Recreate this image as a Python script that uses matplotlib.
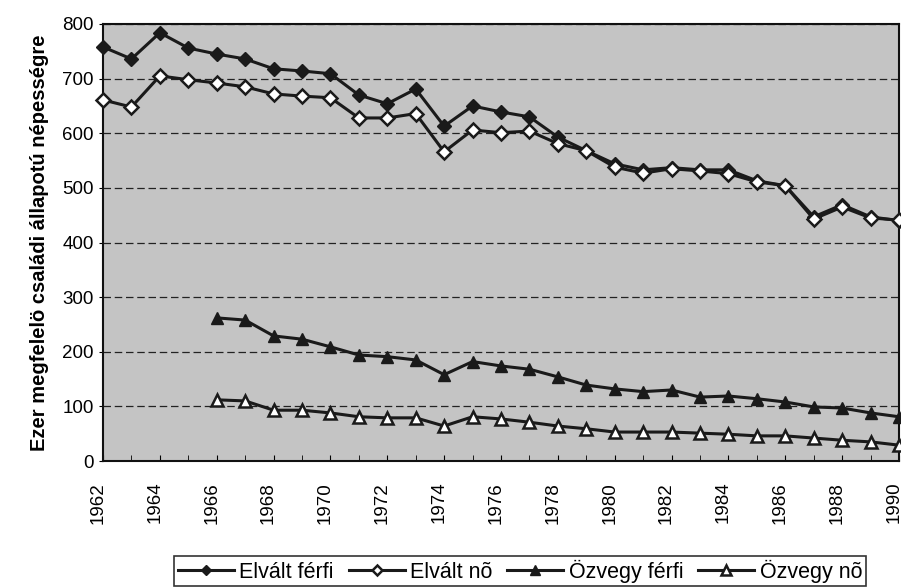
import numpy as np
import matplotlib.pyplot as plt
import matplotlib.transforms as mtransforms
from matplotlib.ticker import MultipleLocator

# ── data ─────────────────────────────────────────────────────────
years = list(range(1962, 1991))
years_w = list(range(1966, 1991))

elvalt_ferfi = [758, 736, 784, 756, 745, 736, 718, 714, 709, 670, 654, 681, 613, 650,
                639, 630, 593, 568, 544, 533, 537, 533, 533, 513, 504, 447, 469, 447, 440]
elvalt_no = [661, 648, 705, 698, 692, 685, 672, 668, 665, 628, 628, 636, 566, 606,
             601, 604, 581, 568, 538, 527, 535, 531, 526, 511, 504, 443, 465, 445, 441]
ozvegy_ferfi = [262, 258, 229, 223, 209, 194, 191, 185, 158, 182, 174, 168, 154,
                139, 132, 127, 130, 117, 119, 114, 108, 99, 97, 88, 81]
ozvegy_no = [112, 110, 93, 93, 88, 81, 79, 79, 64, 81, 77, 71, 64,
             59, 53, 53, 53, 51, 49, 46, 46, 42, 38, 35, 29]

labels = ['Elvált férfi', 'Elvált nõ', 'Özvegy férfi', 'Özvegy nõ']

plt.rcParams['font.family'] = ['Liberation Sans', 'DejaVu Sans']

fig = plt.figure(figsize=(9.01, 5.87), dpi=100)
ax = fig.add_axes([103 / 901, 1 - 461 / 587, 796 / 901, 437 / 587])
ax.set_facecolor('#c4c4c4')

lw = 2.2
ax.plot(years, elvalt_ferfi, color='#1a1a1a', lw=lw, marker='D', ms=7,
        mfc='#1a1a1a', mec='#1a1a1a', label=labels[0], clip_on=False, zorder=3)
ax.plot(years, elvalt_no, color='#1a1a1a', lw=lw, marker='D', ms=7,
        mfc='white', mec='#1a1a1a', mew=1.8, label=labels[1], clip_on=False, zorder=3)
ax.plot(years_w, ozvegy_ferfi, color='#1a1a1a', lw=lw, marker='^', ms=9,
        mfc='#1a1a1a', mec='#1a1a1a', label=labels[2], clip_on=False, zorder=3)
ax.plot(years_w, ozvegy_no, color='#1a1a1a', lw=lw, marker='^', ms=9,
        mfc='white', mec='#1a1a1a', mew=1.8, label=labels[3], clip_on=False, zorder=3)

# ── axes ─────────────────────────────────────────────────────────
ax.set_xlim(1962, 1990)
ax.set_ylim(0, 800)
ax.set_xticks(range(1962, 1991, 2))
ax.xaxis.set_minor_locator(MultipleLocator(1))
ax.yaxis.set_major_locator(MultipleLocator(100))
ax.tick_params(axis='x', which='both', direction='in', length=4, labelsize=13.5,
               labelrotation=90, pad=15)
ax.tick_params(axis='y', direction='out', length=3, labelsize=13.5)
ax.grid(axis='y', color='#222222', linestyle=(0, (6, 3)), linewidth=0.9)
ax.set_axisbelow(True)
for s in ax.spines.values():
    s.set_linewidth(1.5)
    s.set_color('#111111')

# year labels sit a little left of their ticks
shift = mtransforms.ScaledTranslation(-5 / 100, 0, fig.dpi_scale_trans)
for t in ax.get_xticklabels():
    t.set_transform(t.get_transform() + shift)

ax.set_ylabel('Ezer megfelelö családi állapotú népességre', fontsize=14.5,
              fontweight='bold', labelpad=10)

leg = fig.legend(loc='center', bbox_to_anchor=(520 / 901, 1 - 571 / 587), ncol=4,
                 fontsize=15.5, frameon=True, fancybox=False, edgecolor='black',
                 handlelength=2.6, handletextpad=0.25, columnspacing=0.7,
                 borderpad=0.15, borderaxespad=0, markerscale=0.8)
leg.get_frame().set_linewidth(1.2)

fig.savefig('out.png', dpi=100, facecolor='white')
